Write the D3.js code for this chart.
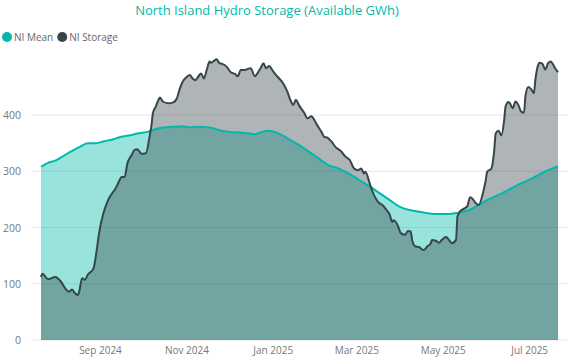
<!DOCTYPE html>
<html>
<head>
<meta charset="utf-8">
<script src="https://cdn.jsdelivr.net/npm/d3@7"></script>
<style>
  body { margin: 0; background: #fff; }
  text { font-family: "Segoe UI", "Open Sans", sans-serif; }
</style>
</head>
<body>
<div id="chart"></div>
<script>
// NI Storage (GWh)
var storageDates = [
  "2024-07-21","2024-07-22","2024-07-26","2024-07-31","2024-08-04","2024-08-08","2024-08-10","2024-08-12",
  "2024-08-14","2024-08-16","2024-08-17","2024-08-19","2024-08-21","2024-08-23","2024-08-27","2024-08-29",
  "2024-08-31","2024-09-03","2024-09-05","2024-09-07","2024-09-11","2024-09-13","2024-09-16","2024-09-18",
  "2024-09-20","2024-09-23","2024-09-25","2024-09-27","2024-09-30","2024-10-03","2024-10-06","2024-10-07",
  "2024-10-08","2024-10-10","2024-10-12","2024-10-13","2024-10-15","2024-10-19","2024-10-22","2024-10-25",
  "2024-10-27","2024-10-29","2024-11-01","2024-11-03","2024-11-05","2024-11-07","2024-11-09","2024-11-11",
  "2024-11-13","2024-11-15","2024-11-17","2024-11-18","2024-11-21","2024-11-22","2024-11-24","2024-11-26",
  "2024-11-29","2024-12-02","2024-12-05","2024-12-07","2024-12-09","2024-12-12","2024-12-14","2024-12-16",
  "2024-12-19","2024-12-21","2024-12-23","2024-12-25","2024-12-27","2024-12-29","2025-01-01","2025-01-04",
  "2025-01-08","2025-01-11","2025-01-13","2025-01-15","2025-01-17","2025-01-19","2025-01-23","2025-01-25",
  "2025-01-28","2025-01-30","2025-02-01","2025-02-04","2025-02-06","2025-02-08","2025-02-11","2025-02-14",
  "2025-02-18","2025-02-21","2025-02-24","2025-02-27","2025-03-02","2025-03-04","2025-03-06","2025-03-07",
  "2025-03-10","2025-03-12","2025-03-15","2025-03-17","2025-03-19","2025-03-22","2025-03-24","2025-03-26",
  "2025-03-27","2025-03-30","2025-04-01","2025-04-04","2025-04-06","2025-04-08","2025-04-09","2025-04-11",
  "2025-04-14","2025-04-17","2025-04-20","2025-04-22","2025-04-23","2025-04-26","2025-04-28","2025-04-30",
  "2025-05-03","2025-05-05","2025-05-07","2025-05-10","2025-05-11","2025-05-13","2025-05-16","2025-05-18",
  "2025-05-20","2025-05-22","2025-05-24","2025-05-26","2025-05-29","2025-05-31","2025-06-01","2025-06-04",
  "2025-06-06","2025-06-07","2025-06-09","2025-06-11","2025-06-13","2025-06-14","2025-06-16","2025-06-17",
  "2025-06-19","2025-06-21","2025-06-23","2025-06-25","2025-06-27","2025-06-28","2025-06-30","2025-07-02",
  "2025-07-04","2025-07-05","2025-07-07","2025-07-08","2025-07-10","2025-07-12","2025-07-14","2025-07-16",
  "2025-07-17","2025-07-19","2025-07-21"
]
var storageValues = [
  112,118,108,112,104,89,86,90,
  83,80,86,110,107,116,127,154,
  190,225,240,252,267,276,290,290,
  314,329,338,339,331,332,367,382,
  403,415,427,431,424,421,422,430,
  447,459,468,471,465,462,468,474,
  465,480,495,493,498,499,492,491,
  486,476,473,469,480,480,482,483,
  469,475,483,492,483,487,477,468,
  456,441,427,418,427,418,403,394,
  398,391,382,370,361,360,353,343,
  335,326,320,305,302,305,296,299,
  279,264,249,243,240,231,224,210,
  213,203,190,187,194,193,178,167,
  165,160,167,171,178,176,173,178,
  183,178,172,178,219,229,234,238,
  254,250,243,240,261,284,299,305,
  338,367,372,364,391,415,423,421,
  412,424,418,406,404,433,450,446,
  439,462,489,493,491,481,492,495,
  492,483,476
]

// NI Mean (GWh)
var meanDates = [
  "2024-07-21","2024-07-26","2024-07-31","2024-08-05","2024-08-11","2024-08-17","2024-08-23","2024-08-29",
  "2024-09-03","2024-09-10","2024-09-15","2024-09-22","2024-09-27","2024-10-04","2024-10-13","2024-10-22",
  "2024-10-29","2024-11-03","2024-11-08","2024-11-17","2024-11-24","2024-12-01","2024-12-08","2024-12-15",
  "2024-12-19","2024-12-24","2024-12-29","2025-01-05","2025-01-12","2025-01-19","2025-01-26","2025-02-02",
  "2025-02-09","2025-02-16","2025-02-23","2025-03-03","2025-03-10","2025-03-17","2025-03-24","2025-03-31",
  "2025-04-07","2025-04-14","2025-04-21","2025-04-28","2025-05-05","2025-05-11","2025-05-19","2025-05-26",
  "2025-06-02","2025-06-09","2025-06-16","2025-06-23","2025-06-30","2025-07-07","2025-07-14","2025-07-21"
]
var meanValues = [
  308,315,319,326,335,343,350,350,
  353,357,361,364,367,370,377,379,
  380,378,379,378,373,370,369,367,
  366,370,372,367,357,347,335,323,
  311,305,296,284,273,261,249,237,
  231,228,225,224,224,226,231,240,
  250,258,267,276,284,293,302,309
]

var yTicks = [0, 100, 200, 300, 400]
var xTickDates = ["2024-09-01","2024-11-01","2025-01-01","2025-03-01","2025-05-01","2025-07-01"]
var seriesNames = ["NI Mean", "NI Storage"]
var title = "North Island Hydro Storage (Available GWh)"

var W = 570, H = 357
var margin = { left: 41, right: 12, top: 60, bottom: 17 }
var teal = "#01B8AA", dark = "#374649"

var parse = d3.timeParse("%Y-%m-%d")
var storage = storageDates.map(function(d, i){ return { date: parse(d), value: storageValues[i] } })
var mean = meanDates.map(function(d, i){ return { date: parse(d), value: meanValues[i] } })

var svg = d3.select("#chart").append("svg")
    .attr("width", W)
    .attr("height", H)

svg.append("text")
    .attr("x", 267)
    .attr("y", 10)
    .attr("text-anchor", "middle")
    .attr("dominant-baseline", "central")
    .attr("font-size", "13px")
    .attr("fill", teal)
    .text(title)

// legend
var legend = svg.append("g").attr("transform", "translate(7,37)")
var lx = 0
seriesNames.forEach(function(name, i){
    var g = legend.append("g").attr("transform", "translate(" + lx + ",0)")
    g.append("circle").attr("cx", 0).attr("cy", 0).attr("r", 5).attr("fill", i == 0 ? teal : dark)
    var t = g.append("text")
        .attr("x", 7)
        .attr("y", 0)
        .attr("dominant-baseline", "central")
        .attr("font-size", "10px")
        .attr("fill", "#666")
        .text(name)
    lx += 7 + t.node().getComputedTextLength() + 9
})

var x = d3.scaleTime()
    .domain([parse("2024-07-21"), parse("2025-07-21")])
    .range([margin.left, W - margin.right])

var y = d3.scaleLinear()
    .domain([0, 400])
    .range([H - margin.bottom, H - margin.bottom - 225])

// gridlines + y labels
var grid = svg.append("g")
grid.selectAll("line")
    .data(yTicks)
    .enter().append("line")
    .attr("x1", 31)
    .attr("x2", 568)
    .attr("y1", function(d){ return y(d) })
    .attr("y2", function(d){ return y(d) })
    .attr("stroke", "#e6e6e6")
    .attr("stroke-width", 1)

grid.selectAll("text")
    .data(yTicks)
    .enter().append("text")
    .attr("x", 21)
    .attr("y", function(d){ return y(d) })
    .attr("text-anchor", "end")
    .attr("dominant-baseline", "central")
    .attr("font-size", "10.5px")
    .attr("fill", "#777")
    .text(function(d){ return d })

var area = d3.area()
    .curve(d3.curveMonotoneX)
    .x(function(d){ return x(d.date) })
    .y0(y(0))
    .y1(function(d){ return y(d.value) })

var line = d3.line()
    .curve(d3.curveMonotoneX)
    .x(function(d){ return x(d.date) })
    .y(function(d){ return y(d.value) })

svg.append("path").datum(mean)
    .attr("d", area)
    .attr("fill", teal)
    .attr("fill-opacity", 0.4)

svg.append("path").datum(storage)
    .attr("d", area)
    .attr("fill", dark)
    .attr("fill-opacity", 0.4)

svg.append("path").datum(mean)
    .attr("d", line)
    .attr("fill", "none")
    .attr("stroke", teal)
    .attr("stroke-width", 2)

svg.append("path").datum(storage)
    .attr("d", line)
    .attr("fill", "none")
    .attr("stroke", dark)
    .attr("stroke-width", 2)
    .attr("stroke-linejoin", "round")

// x axis labels
var fmt = d3.timeFormat("%b %Y")
svg.append("g").selectAll("text")
    .data(xTickDates.map(parse))
    .enter().append("text")
    .attr("x", function(d){ return x(d) })
    .attr("y", 350)
    .attr("text-anchor", "middle")
    .attr("dominant-baseline", "central")
    .attr("font-size", "10px")
    .attr("fill", "#777")
    .text(function(d){ return fmt(d) })
</script>
</body>
</html>
